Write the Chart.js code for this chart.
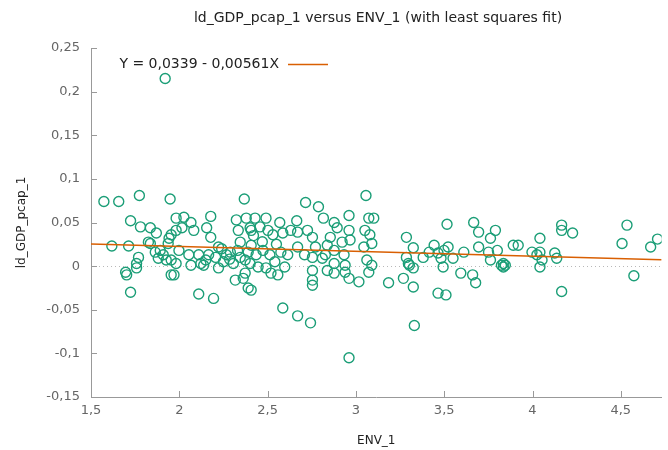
<!DOCTYPE html>
<html><head><meta charset="utf-8">
<script src="https://cdn.jsdelivr.net/npm/chart.js@4.4.0/dist/chart.umd.min.js"></script>
<style>html,body{margin:0;padding:0;background:#fff}#wrap{width:668px;height:450px}</style>
</head><body><div id="wrap"><canvas id="c" width="668" height="450"></canvas></div>
<script>
const titleText = 'ld_GDP_pcap_1 versus ENV_1 (with least squares fit)';
const legendText = 'Y = 0,0339 - 0,00561X';
const xLabel = 'ENV_1';
const yLabel = 'ld_GDP_pcap_1';
const xTicks = [1.5, 2, 2.5, 3, 3.5, 4, 4.5];
const yTicks = [-0.15, -0.1, -0.05, 0, 0.05, 0.1, 0.15, 0.2, 0.25];
const xRange = [1.5, 4.731];
const yRange = [-0.15, 0.25];
const fitX = [1.5, 4.731];
const fitY = [0.0255, 0.0074];
const envX = [
1.573,1.657,1.774,1.948,1.724,1.780,1.836,1.870,1.618,1.713,
1.836,1.864,1.769,1.758,1.696,1.702,1.758,1.724,1.825,1.892,
1.909,1.881,1.926,1.937,1.954,1.954,1.920,
2.368,2.178,1.982,2.026,2.066,1.982,2.015,2.082,2.155,2.178,
2.323,2.379,2.334,2.401,2.345,1.942,1.998,1.954,1.982,2.066,
2.122,2.150,2.206,2.222,2.250,2.267,2.306,2.345,2.373,2.390,
2.166,2.110,2.054,2.222,2.289,1.970,2.317,2.362,2.390,2.110,
2.194,2.373,
2.715,2.788,2.816,2.429,2.491,2.569,2.665,2.407,2.457,2.502,
2.530,2.586,2.631,2.670,2.726,2.754,2.771,2.838,2.827,2.407,
2.435,2.474,2.513,2.541,2.575,2.614,2.670,2.709,2.754,2.810,
2.401,2.446,2.491,2.519,2.558,2.754,2.754,2.838,2.407,2.586,
2.597,2.670,2.743,2.754,2.961,
3.057,2.961,3.073,3.101,2.877,2.894,2.961,3.051,3.079,2.855,
2.922,2.967,3.045,3.090,3.286,2.877,2.933,3.062,3.090,3.073,
3.297,2.877,2.939,2.877,2.939,2.961,3.017,3.185,3.269,
3.516,3.667,3.695,3.790,3.762,3.695,3.751,3.801,3.762,3.891,
3.325,3.286,3.381,3.415,3.443,3.465,3.482,3.499,3.522,3.550,
3.611,3.303,3.325,3.325,3.494,3.594,3.661,3.678,3.465,3.510,
3.835,3.835,3.846,3.824,3.331,
3.919,3.997,4.025,4.042,4.054,4.042,4.126,4.137,4.042,4.165,
4.165,4.227,4.165,4.535,4.507,4.574,4.669,4.708,
2.138,2.240,2.285,2.330,2.420,2.470,2.550
];
const gdpY = [
0.074,0.074,0.081,0.077,0.052,0.045,0.044,0.038,0.023,0.023,
0.026,0.016,0.010,0.003,-0.007,-0.010,-0.002,-0.030,0.0275,0.018,
0.013,0.009,0.007,0.026,0.036,-0.010,0.215,
0.077,0.057,0.055,0.056,0.050,0.041,0.044,0.041,0.044,0.033,
0.053,0.055,0.041,0.044,0.0275,0.032,0.018,0.007,0.003,0.001,
0.003,0.007,0.010,-0.002,0.005,0.013,0.003,0.010,0.007,0.016,
0.013,0.013,0.013,0.022,0.016,-0.010,-0.016,-0.014,-0.025,-0.032,
-0.037,-0.008,
0.073,0.068,0.055,0.055,0.055,0.050,0.052,0.041,0.045,0.041,
0.036,0.038,0.041,0.039,0.041,0.033,0.022,0.024,0.013,0.024,
0.013,0.018,0.013,0.005,0.016,0.013,0.022,0.013,0.010,0.009,
0.003,-0.001,-0.002,-0.008,-0.010,-0.005,-0.016,-0.005,-0.0275,-0.048,
-0.001,-0.057,-0.065,-0.022,-0.105,
0.081,0.058,0.055,0.055,0.050,0.044,0.041,0.041,0.036,0.033,
0.0275,0.030,0.022,0.026,0.033,0.018,0.013,0.007,0.001,-0.007,
0.003,0.003,0.001,-0.008,-0.007,-0.014,-0.018,-0.019,-0.014,
0.048,0.050,0.039,0.041,0.032,0.022,0.016,0.018,0.007,0.024,
0.021,0.010,0.010,0.016,0.024,0.015,0.009,0.018,0.022,0.009,
0.016,0.001,-0.002,-0.024,-0.001,-0.008,-0.010,-0.019,-0.031,-0.033,
0.003,-0.001,0.001,0.001,-0.068,
0.024,0.016,0.013,0.016,0.007,-0.001,0.015,0.009,0.032,0.047,
0.041,0.038,-0.029,0.047,0.026,-0.011,0.022,0.031,
0.001,0.020,0.008,0.018,0.035,0.028,0.025
];

const FONT = '"DejaVu Sans", Verdana, sans-serif';
Chart.defaults.font.family = FONT;
const fmt = v => String(Math.round(v * 1000) / 1000).replace('.', ',');

const overlay = {
  id: 'overlay',
  beforeDatasetsDraw(chart) {
    const {ctx, chartArea: a, scales: {y}} = chart;
    const py = Math.round(y.getPixelForValue(0)) + 0.5;
    ctx.save();
    ctx.strokeStyle = '#b8b8b8';
    ctx.lineWidth = 1;
    ctx.setLineDash([1, 3]);
    ctx.beginPath(); ctx.moveTo(a.left, py); ctx.lineTo(a.right, py); ctx.stroke();
    ctx.restore();
  },
  afterDraw(chart) {
    const {ctx, chartArea: a, scales: {x, y}} = chart;
    ctx.save();
    ctx.strokeStyle = '#999';
    ctx.lineWidth = 1;
    ctx.beginPath();
    xTicks.forEach(v => { const px = Math.round(x.getPixelForValue(v)) + 0.5; ctx.moveTo(px, a.bottom); ctx.lineTo(px, a.bottom - 6); });
    yTicks.forEach(v => { const py = Math.round(y.getPixelForValue(v)) + 0.5; ctx.moveTo(a.left, py); ctx.lineTo(a.left + 6, py); });
    ctx.stroke();
    // title (plot is cropped on the right, so the title sits right of the canvas centre)
    ctx.font = '14px ' + FONT;
    ctx.fillStyle = '#222';
    ctx.textAlign = 'center';
    ctx.textBaseline = 'middle';
    ctx.fillText(titleText, 378, 18);
    // key
    ctx.textAlign = 'right';
    ctx.fillText(legendText, 279, 64);
    ctx.strokeStyle = '#d95f02';
    ctx.lineWidth = 1.5;
    ctx.beginPath(); ctx.moveTo(288, 64.5); ctx.lineTo(328, 64.5); ctx.stroke();
    ctx.restore();
  }
};

new Chart(document.getElementById('c'), {
  type: 'scatter',
  data: {
    datasets: [
      {
        label: legendText,
        data: fitX.map((v, i) => ({x: v, y: fitY[i]})),
        showLine: true,
        borderColor: '#d95f02',
        borderWidth: 1.5,
        pointRadius: 0,
        fill: false
      },
      {
        label: yLabel,
        data: envX.map((v, i) => ({x: v, y: gdpY[i]})),
        pointRadius: 5,
        pointBorderWidth: 1.4,
        pointBorderColor: '#1b9e77',
        pointBackgroundColor: 'rgba(0,0,0,0)',
        showLine: false
      }
    ]
  },
  options: {
    responsive: false,
    devicePixelRatio: 1,
    animation: false,
    layout: {padding: {top: 48, left: 0, right: 0, bottom: 0}},
    plugins: {
      legend: {display: false},
      tooltip: {enabled: false},
      title: {display: false}
    },
    scales: {
      x: {
        type: 'linear',
        position: 'bottom',
        min: xRange[0], max: xRange[1],
        afterBuildTicks: s => { s.ticks = xTicks.map(v => ({value: v})); },
        afterFit: s => { s.height = 53; },
        ticks: {callback: v => fmt(v), color: '#666', font: {size: 13}, padding: 6, maxRotation: 0, autoSkip: false, includeBounds: false},
        grid: {drawOnChartArea: false, drawTicks: false},
        border: {color: '#999', width: 1},
        title: {display: true, text: xLabel, color: '#222', font: {size: 12}, padding: {top: 0, bottom: 2}}
      },
      y: {
        type: 'linear',
        position: 'left',
        min: yRange[0], max: yRange[1],
        afterBuildTicks: s => { s.ticks = yTicks.map(v => ({value: v})); },
        afterFit: s => { s.width = 91; },
        ticks: {callback: v => fmt(v), color: '#666', font: {size: 13}, padding: 11, autoSkip: false, includeBounds: false},
        grid: {drawOnChartArea: false, drawTicks: false},
        border: {color: '#999', width: 1},
        title: {display: true, text: yLabel, color: '#222', font: {size: 12}, padding: {top: 15, bottom: 0}}
      }
    }
  },
  plugins: [overlay]
});
</script>
</body></html>
